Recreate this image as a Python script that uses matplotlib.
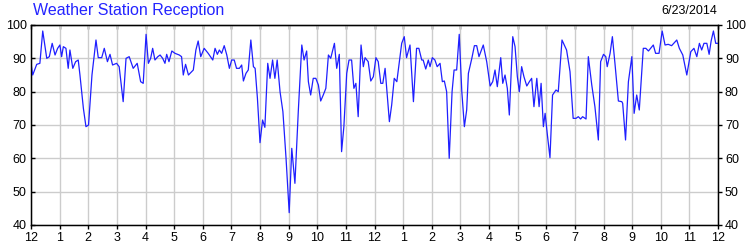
import matplotlib
matplotlib.use("Agg")
import matplotlib.pyplot as plt

title = "Weather Station Reception"
date_label = "6/23/2014"

# hours since midnight and reception percentage
hours = [0.00, 0.06, 0.20, 0.31, 0.41, 0.55, 0.64, 0.74, 0.84, 0.93,
         1.01, 1.07, 1.13, 1.22, 1.30, 1.36, 1.46, 1.56, 1.65, 1.71,
         1.83, 1.92, 2.01, 2.13, 2.27, 2.35, 2.47, 2.56, 2.67, 2.76,
         2.85, 2.99, 3.08, 3.22, 3.32, 3.43, 3.57, 3.71, 3.83, 3.92,
         4.02, 4.10, 4.18, 4.25, 4.33, 4.43, 4.51, 4.60, 4.68, 4.74,
         4.82, 4.92, 5.03, 5.18, 5.26, 5.32, 5.40, 5.50, 5.67, 5.76,
         5.84, 5.93, 6.05, 6.19, 6.35, 6.43, 6.51, 6.58, 6.66, 6.75,
         6.84, 6.93, 7.01, 7.10, 7.18, 7.28, 7.36, 7.42, 7.51, 7.59,
         7.68, 7.77, 7.83, 7.91, 8.00, 8.09, 8.17, 8.27, 8.35, 8.44,
         8.52, 8.60, 8.70, 8.80, 8.91, 9.02, 9.11, 9.22, 9.34, 9.46,
         9.54, 9.63, 9.69, 9.77, 9.86, 9.95, 10.04, 10.12, 10.21, 10.30,
         10.39, 10.47, 10.60, 10.68, 10.77, 10.85, 10.93, 11.03, 11.11, 11.20,
         11.28, 11.35, 11.43, 11.53, 11.61, 11.67, 11.78, 11.87, 11.96, 12.05,
         12.13, 12.22, 12.29, 12.37, 12.52, 12.60, 12.69, 12.78, 12.87, 12.95,
         13.04, 13.12, 13.24, 13.36, 13.47, 13.55, 13.65, 13.70, 13.79, 13.88,
         13.94, 14.02, 14.11, 14.19, 14.29, 14.37, 14.44, 14.52, 14.61, 14.71,
         14.78, 14.87, 14.96, 15.05, 15.14, 15.22, 15.28, 15.40, 15.49, 15.57,
         15.65, 15.80, 15.92, 16.04, 16.13, 16.21, 16.29, 16.41, 16.48, 16.56,
         16.64, 16.71, 16.83, 16.91, 16.99, 17.06, 17.14, 17.22, 17.32, 17.41,
         17.49, 17.57, 17.67, 17.75, 17.82, 17.90, 17.96, 18.04, 18.13, 18.22,
         18.34, 18.42, 18.55, 18.71, 18.83, 18.94, 19.04, 19.12, 19.20, 19.27,
         19.39, 19.47, 19.59, 19.70, 19.82, 19.90, 20.00, 20.08, 20.13, 20.23,
         20.31, 20.40, 20.52, 20.64, 20.67, 20.77, 20.87, 20.99, 21.07, 21.16,
         21.25, 21.39, 21.48, 21.57, 21.74, 21.82, 21.94, 22.05, 22.15, 22.26,
         22.38, 22.56, 22.65, 22.77, 22.91, 23.05, 23.16, 23.26, 23.35, 23.43,
         23.51, 23.61, 23.69, 23.76, 23.84, 23.92, 24.00]

reception = [88.5, 85.0, 88.2, 88.5, 98.2, 90.0, 90.5, 94.5, 91.0, 93.0,
             94.0, 90.5, 93.5, 93.0, 87.0, 92.5, 87.0, 89.0, 89.5, 85.0,
             75.0, 69.5, 70.0, 85.0, 95.5, 90.2, 90.2, 93.0, 89.0, 91.2,
             88.0, 88.5, 87.5, 77.0, 90.0, 90.5, 87.0, 88.5, 83.0, 82.5,
             97.2, 88.5, 90.0, 93.0, 89.5, 90.5, 91.0, 90.0, 88.5, 91.2,
             89.0, 92.2, 91.5, 91.0, 90.5, 85.0, 88.2, 85.0, 86.5, 92.5,
             95.2, 90.5, 93.0, 91.5, 89.5, 93.0, 91.2, 92.5, 91.5, 93.8,
             91.0, 87.0, 89.5, 89.5, 87.0, 87.0, 88.0, 83.2, 85.5, 86.5,
             95.5, 87.5, 87.0, 78.0, 64.7, 71.5, 69.3, 88.5, 84.0, 89.5,
             84.0, 89.5, 80.0, 74.0, 60.0, 43.7, 63.0, 52.5, 74.5, 94.0,
             89.5, 92.2, 83.0, 79.0, 84.0, 84.0, 82.0, 77.2, 79.0, 81.0,
             91.0, 90.0, 94.5, 87.0, 91.2, 62.0, 69.5, 85.5, 89.5, 89.5,
             81.0, 82.5, 72.5, 94.0, 87.5, 90.2, 89.0, 83.2, 84.5, 90.2,
             89.0, 82.5, 82.5, 87.0, 71.0, 76.0, 84.0, 83.0, 89.0, 94.5,
             96.5, 90.2, 94.0, 77.0, 93.0, 93.0, 89.5, 89.5, 86.8, 89.5,
             87.5, 90.2, 89.5, 87.5, 88.5, 83.0, 83.2, 80.0, 60.0, 80.0,
             86.5, 86.5, 97.2, 80.0, 69.5, 74.5, 85.5, 90.0, 93.8, 93.8,
             90.5, 94.0, 89.0, 81.7, 83.0, 86.5, 81.5, 90.2, 82.5, 85.0,
             81.0, 73.0, 96.5, 93.5, 84.5, 80.0, 87.5, 84.5, 81.7, 83.0,
             84.0, 75.5, 84.0, 75.5, 82.5, 69.5, 73.5, 67.0, 60.2, 79.0,
             80.5, 80.0, 95.5, 92.5, 86.0, 72.0, 72.0, 72.5, 71.8, 72.5,
             71.8, 90.5, 82.0, 75.5, 65.5, 89.0, 91.2, 90.5, 87.5, 91.5,
             96.5, 88.5, 77.2, 77.0, 76.5, 65.5, 83.0, 90.5, 73.5, 79.0,
             74.5, 93.0, 93.0, 92.2, 94.0, 91.5, 91.5, 98.2, 94.0, 94.2,
             93.8, 95.5, 93.0, 91.0, 85.0, 92.0, 93.0, 90.5, 94.5, 92.5,
             94.5, 94.5, 91.2, 95.2, 98.2, 94.5, 94.5]

hour_ticks = list(range(0, 25))
hour_labels = ["12", "1", "2", "3", "4", "5", "6", "7", "8", "9", "10", "11",
               "12", "1", "2", "3", "4", "5", "6", "7", "8", "9", "10", "11", "12"]
value_ticks = [40, 50, 60, 70, 80, 90, 100]

plt.rcParams["font.family"] = ["Liberation Sans", "DejaVu Sans"]

fig = plt.figure(figsize=(7.5, 2.5), dpi=100)
ax = fig.add_axes([31 / 750, 0.1, 687 / 750, 0.8])

ax.plot(hours, reception, color="#1f1fff", linewidth=0.9, zorder=3)
ax.set_xlim(0, 24)
ax.set_ylim(40, 100)

ax.set_xticks(hour_ticks)
ax.set_xticklabels(hour_labels, fontsize=9)
ax.set_yticks(value_ticks)
ax.set_yticklabels([str(v) for v in value_ticks], fontsize=9)
ax.grid(True, color="#cccccc", linewidth=1.0, zorder=0)

ax.tick_params(axis="x", direction="out", length=3, width=1, pad=2)
ax.tick_params(axis="y", direction="in", length=3, width=1, pad=3)
for s in ax.spines.values():
  s.set_linewidth(1.0)

# right hand scale, ticks pointing out
ax2 = ax.twinx()
ax2.set_ylim(40, 100)
ax2.set_yticks(value_ticks)
ax2.set_yticklabels([str(v) for v in value_ticks], fontsize=9)
ax2.tick_params(axis="y", direction="out", length=3, width=1, pad=2)

# top ticks, no labels
top = ax.secondary_xaxis("top")
top.set_xticks(hour_ticks)
top.set_xticklabels([])
top.tick_params(direction="in", length=3, width=1)

fig.text(33 / 750, 1 - 11 / 250, title, color="#2424ff", fontsize=11.5, ha="left", va="center")
fig.text(717 / 750, 1 - 11 / 250, date_label, color="black", fontsize=9, ha="right", va="center")

fig.savefig("out.png", dpi=100)
plt.close("all")
